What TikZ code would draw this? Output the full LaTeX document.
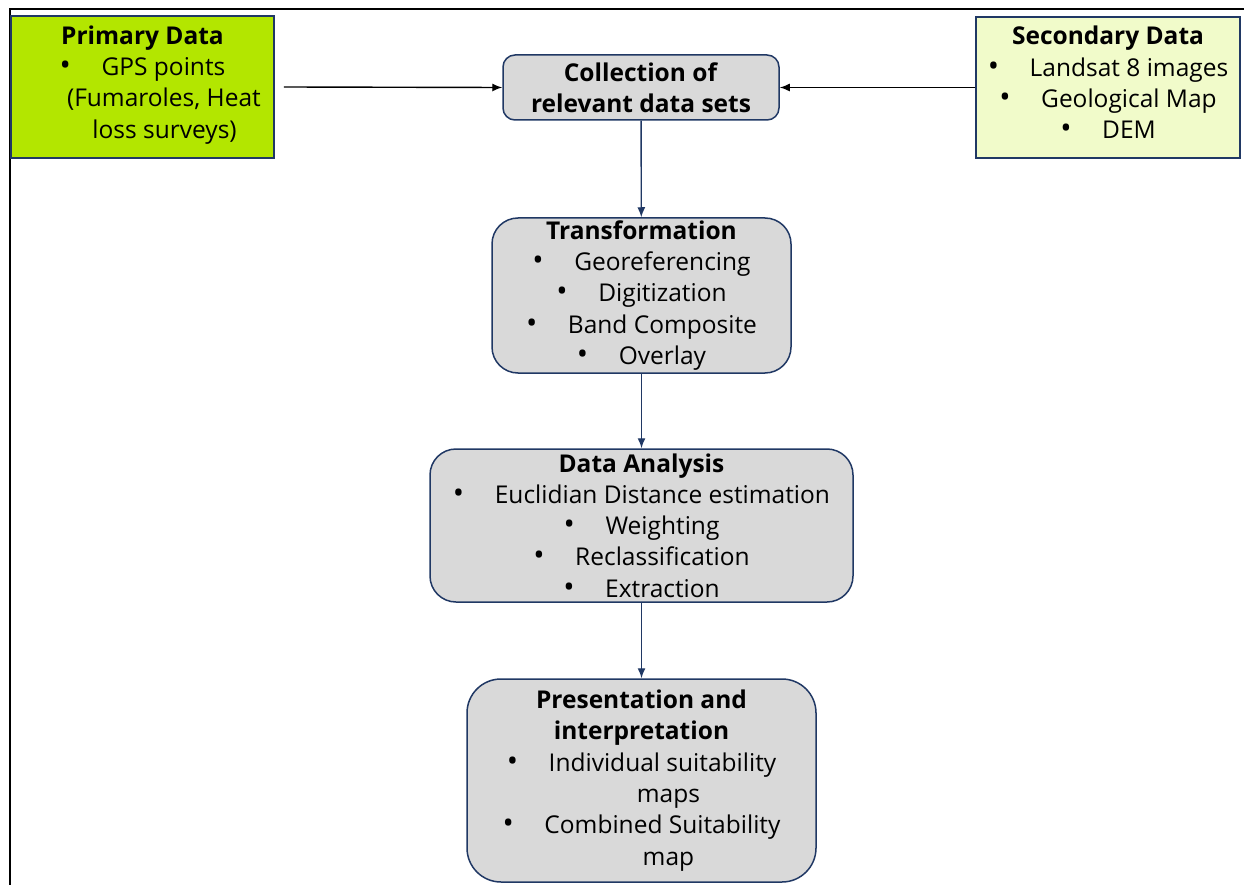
\documentclass[tikz,border=0pt]{standalone}
\usepackage{fontspec}
\setmainfont{Open Sans}
\usetikzlibrary{arrows.meta}

\definecolor{navy}{HTML}{203864}
\definecolor{boxgray}{HTML}{D9D9D9}
\definecolor{lime}{HTML}{B3E600}
\definecolor{paleyellow}{HTML}{F1FBCA}

\newcommand{\itm}{{\fontsize{30}{31}\selectfont\textbullet}\hspace{1.25em}}
% empty last line, lifts the text in the source boxes
\newcommand{\lift}{\\[-21pt]\rule{0pt}{0pt}}

\tikzset{
  proc/.style={draw=navy, line width=1.5pt, fill=boxgray, align=center,
    inner sep=0pt, font=\fontsize{24.5}{31.3}\selectfont},
  source/.style={proc, rounded corners=0pt},
  flow/.style={-{Latex[length=10pt,width=8pt]}, line width=1.4pt, navy},
  feed/.style={-{Latex[length=10pt,width=8pt]}, line width=1.4pt, black}
}

\begin{document}
\begin{tikzpicture}[x=1pt,y=-1pt]
  \useasboundingbox (0,0) rectangle (1244,885);
  \fill[white] (0,0) rectangle (1244,885);
  % outer frame, only top and left sides show
  \draw[line width=2pt] (10,885) -- (10,9) -- (1244,9);

  % data sources
  \node[source, fill=lime, minimum width=263pt, minimum height=142pt]
    (primary) at (142.5,87) {\textbf{Primary Data}\\ \itm GPS points\\
    \hspace*{1.75em}(Fumaroles, Heat\\ \hspace*{1.8em}loss surveys)\lift};
  \node[source, fill=paleyellow, minimum width=264pt, minimum height=141pt]
    (secondary) at (1108,87.5) {\textbf{Secondary Data}\\ \itm Landsat 8 images\\
    \itm Geological Map\\ \itm DEM\lift};

  % processing steps
  \node[proc, rounded corners=12pt, minimum width=276pt, minimum height=65pt]
    (collect) at (641,87.5) {\textbf{Collection of}\\ \textbf{relevant data sets}};
  \node[proc, rounded corners=26pt, minimum width=299pt, minimum height=155pt]
    (transform) at (641.5,295.5) {\textbf{Transformation}\\ \itm Georeferencing\\
    \itm Digitization\\ \itm Band Composite\\ \itm Overlay};
  \node[proc, rounded corners=26pt, minimum width=423pt, minimum height=153pt]
    (analysis) at (641.5,525.5) {\textbf{Data Analysis}\\
    \itm Euclidian Distance estimation\\ \itm Weighting\\
    \itm Reclassification\\ \itm Extraction};
  \node[proc, rounded corners=34pt, minimum width=349pt, minimum height=203pt]
    (present) at (641.5,780.5) {\textbf{Presentation and}\\ \textbf{interpretation}\\
    \itm Individual suitability\\ \hspace{2.2em}maps\\
    \itm Combined Suitability\\ \hspace{2.2em}map};

  % connectors
  \draw[feed] ([xshift=9pt]primary.east) -- (collect.west);
  \draw[feed] (secondary.west) -- (collect.east);
  \draw[flow] (collect) -- (transform);
  \draw[flow] (transform) -- (analysis);
  \draw[flow] (analysis) -- (present);
\end{tikzpicture}
\end{document}
